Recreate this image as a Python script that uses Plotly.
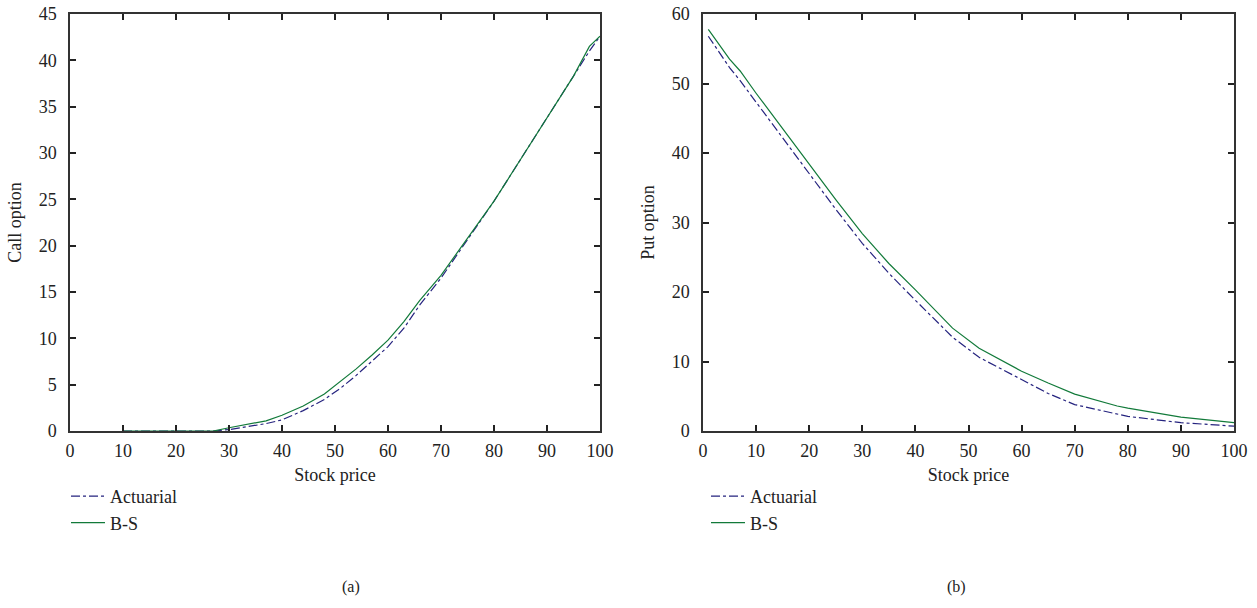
import plotly.graph_objects as go

# ---- data ----
call_x = [10, 20, 27, 30, 33, 37, 40, 44, 48, 51, 54, 57, 60, 63, 66, 70, 74, 78, 80, 85, 90, 95, 98, 100]
call_bs = [0, 0, 0, 0.35, 0.65, 1.1, 1.7, 2.7, 4.0, 5.3, 6.7, 8.2, 9.8, 11.8, 14.1, 16.8, 20.0, 23.2, 24.8, 29.3, 33.8, 38.3, 41.5, 42.6]
call_act = [0, 0, 0, 0.15, 0.45, 0.8, 1.2, 2.2, 3.4, 4.6, 6.0, 7.5, 9.1, 11.1, 13.6, 16.5, 19.8, 23.1, 24.8, 29.3, 33.8, 38.3, 41.0, 42.6]

put_x = [1, 5, 7, 10, 15, 20, 25, 30, 35, 40, 47, 52, 55, 60, 65, 70, 78, 80, 90, 100]
put_bs = [57.8, 53.5, 51.8, 48.6, 43.5, 38.4, 33.3, 28.4, 24.1, 20.3, 14.8, 11.9, 10.7, 8.6, 6.9, 5.3, 3.6, 3.3, 2.0, 1.2]
put_act = [56.8, 52.3, 50.4, 47.3, 42.1, 37.0, 31.9, 27.0, 22.7, 18.8, 13.5, 10.6, 9.4, 7.3, 5.4, 3.8, 2.4, 2.1, 1.2, 0.7]

x_ticks = [0, 10, 20, 30, 40, 50, 60, 70, 80, 90, 100]
call_y_ticks = [0, 5, 10, 15, 20, 25, 30, 35, 40, 45]
put_y_ticks = [0, 10, 20, 30, 40, 50, 60]

ACT_COLOR = "#25237f"
BS_COLOR = "#127a3a"
FONT = "Liberation Serif"
FS = 18

fig = go.Figure()
fig.add_trace(go.Scatter(x=call_x, y=call_act, mode="lines", name="Actuarial",
                         line=dict(color=ACT_COLOR, width=1.2, dash="dashdot"),
                         xaxis="x", yaxis="y", legend="legend"))
fig.add_trace(go.Scatter(x=call_x, y=call_bs, mode="lines", name="B-S",
                         line=dict(color=BS_COLOR, width=1.2),
                         xaxis="x", yaxis="y", legend="legend"))
fig.add_trace(go.Scatter(x=put_x, y=put_act, mode="lines", name="Actuarial",
                         line=dict(color=ACT_COLOR, width=1.2, dash="dashdot"),
                         xaxis="x2", yaxis="y2", legend="legend2"))
fig.add_trace(go.Scatter(x=put_x, y=put_bs, mode="lines", name="B-S",
                         line=dict(color=BS_COLOR, width=1.2),
                         xaxis="x2", yaxis="y2", legend="legend2"))

W, H = 1257, 608
ydom = [1 - 431 / H, 1 - 14 / H]

axis_common = dict(showline=True, linecolor="#333333", linewidth=1.5, mirror="ticks",
                   ticks="inside", ticklen=6, tickwidth=1.5, tickcolor="#222222",
                   showgrid=False, zeroline=False, automargin=False,
                   tickfont=dict(family=FONT, size=FS, color="#222222"))

fig.update_layout(
    template="none",
    width=W, height=H,
    margin=dict(l=0, r=0, t=0, b=0, autoexpand=False),
    paper_bgcolor="white", plot_bgcolor="white",
    font=dict(family=FONT, size=FS, color="#222222"),
    xaxis=dict(domain=[70 / W, 600 / W], range=[0, 100], tickvals=x_ticks, anchor="y",
               ticklabelstandoff=3,
               title=dict(text="Stock price", standoff=8, font=dict(family=FONT, size=FS)),
               **axis_common),
    yaxis=dict(domain=ydom, range=[0, 45], tickvals=call_y_ticks, anchor="x",
               ticklabelstandoff=8,
               title=dict(text="Call option", standoff=12, font=dict(family=FONT, size=FS)),
               **axis_common),
    xaxis2=dict(domain=[703 / W, 1234 / W], range=[0, 100], tickvals=x_ticks, anchor="y2",
                ticklabelstandoff=3,
                title=dict(text="Stock price", standoff=8, font=dict(family=FONT, size=FS)),
                **axis_common),
    yaxis2=dict(domain=ydom, range=[0, 60], tickvals=put_y_ticks, anchor="x2",
                ticklabelstandoff=8,
                title=dict(text="Put option", standoff=12, font=dict(family=FONT, size=FS)),
                **axis_common),
    legend=dict(x=66 / W, y=1 - 478 / H, xanchor="left", yanchor="top",
                font=dict(family=FONT, size=FS), bgcolor="rgba(0,0,0,0)", itemwidth=34),
    legend2=dict(x=706 / W, y=1 - 478 / H, xanchor="left", yanchor="top",
                 font=dict(family=FONT, size=FS), bgcolor="rgba(0,0,0,0)", itemwidth=34),
    annotations=[
        dict(text="(a)", x=340 / W, y=1 - 598 / H, xref="paper", yref="paper",
             showarrow=False, font=dict(family=FONT, size=16, color="#222222")),
        dict(text="(b)", x=968 / W, y=1 - 598 / H, xref="paper", yref="paper",
             showarrow=False, font=dict(family=FONT, size=16, color="#222222")),
    ],
)

fig.write_html("out.html", config={"displayModeBar": False},
               post_script="document.body.style.margin='0';document.body.style.overflow='hidden';")
